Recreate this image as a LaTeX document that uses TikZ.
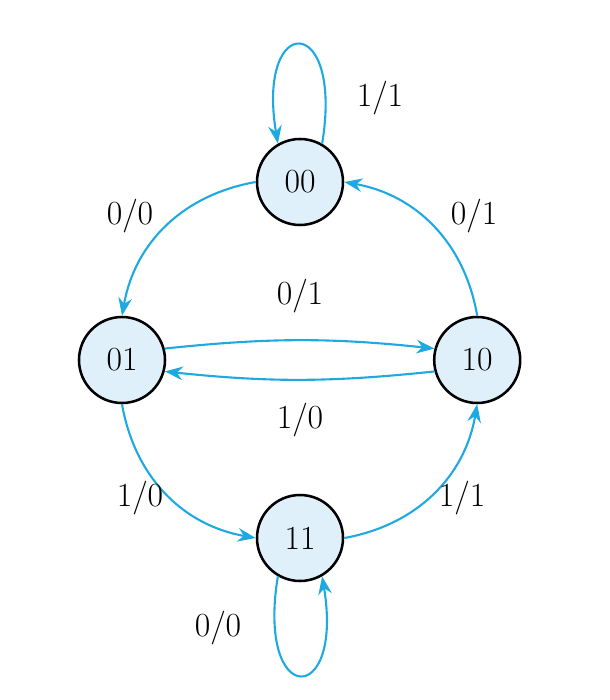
\documentclass[tikz,border=0pt]{standalone}
\usepackage{tikz}
\usetikzlibrary{arrows.meta}
\definecolor{edgeblue}{RGB}{30,170,225}
\definecolor{statefill}{RGB}{224,240,251}
\tikzset{state/.style={circle,draw,line width=1.8pt,fill=statefill,minimum size=2.15cm,inner sep=0pt,font=\fontsize{24}{28}\selectfont},
  trans/.style={draw=edgeblue,line width=1.5pt,-{Stealth[length=4.5mm,width=3.4mm]}},
  lbl/.style={font=\fontsize{24}{28}\selectfont}}
\begin{document}
\begin{tikzpicture}
\useasboundingbox (0,0) rectangle (15.25,-17.5);
\node[state] (s00) at (7.5,-4.55) {00};
\node[state] (s01) at (3.05,-9) {01};
\node[state] (s10) at (11.93,-9) {10};
\node[state] (s11) at (7.5,-13.45) {11};
% transitions
\draw[trans] (s00.180) to[bend right=35] (s01.90);
\draw[trans] (s10.90) to[bend right=35] (s00.0);
\draw[trans] (s01.270) to[bend right=35] (s11.180);
\draw[trans] (s11.0) to[bend right=35] (s10.270);
\draw[trans] (s01.15) to[bend left=6] (s10.165);
\draw[trans] (s10.195) to[bend left=6] (s01.345);
\draw[trans] (s00.60) .. controls (8.6,-0.3) and (6.4,-0.3) .. (s00.120);
\draw[trans] (s11.240) .. controls (6.4,-17.7) and (8.6,-17.7) .. (s11.300);
% labels
\node[lbl] (l1) at (3.25,-5.4) {0/0};
\node[lbl] (l2) at (11.85,-5.4) {0/1};
\node[lbl] (l3) at (3.5,-12.45) {1/0};
\node[lbl] (l4) at (11.55,-12.45) {1/1};
\node[lbl] (l5) at (7.5,-7.4) {0/1};
\node[lbl] (l6) at (7.5,-10.5) {1/0};
\node[lbl] (l7) at (9.5,-2.45) {1/1};
\node[lbl] (l8) at (5.45,-15.7) {0/0};
\end{tikzpicture}
\end{document}
